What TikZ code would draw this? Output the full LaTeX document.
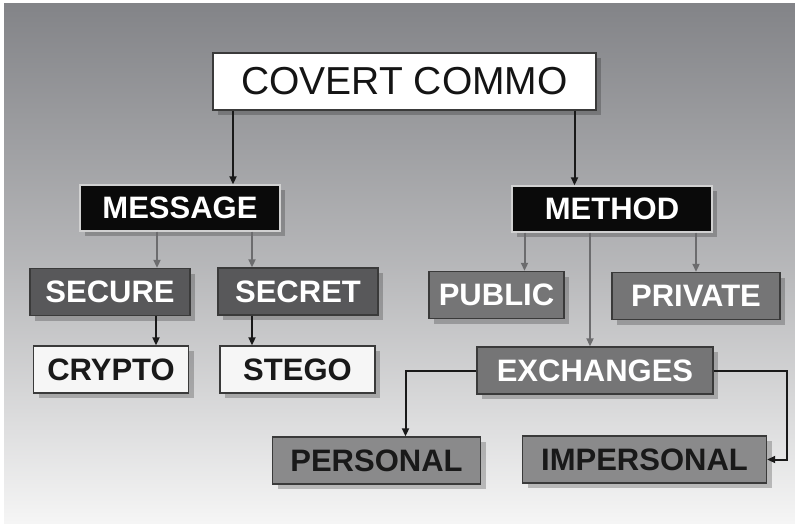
\documentclass[tikz,border=0pt]{standalone}
\usepackage{fontspec}
\setmainfont{Liberation Sans}
\usetikzlibrary{shadows,arrows.meta}
\definecolor{bgtop}{HTML}{838488}
\definecolor{bgbot}{HTML}{F5F5F5}
\definecolor{darkfill}{HTML}{58585A}
\definecolor{midfill}{HTML}{757576}
\definecolor{lightfill}{HTML}{8A8A8B}
\definecolor{paperfill}{HTML}{F6F6F6}
\definecolor{edgedark}{HTML}{3A3A3A}
\definecolor{greyarrow}{HTML}{6C6C6E}
\tikzset{
  box/.style={rectangle, inner sep=0pt, line width=1.4pt, draw=edgedark,
    font=\fontsize{31}{31}\selectfont\bfseries,
    drop shadow={shadow xshift=5pt, shadow yshift=-5pt, fill=black, opacity=0.22}},
  topbox/.style={box, fill=white, font=\fontsize{39}{39}\selectfont, text=black!92},
  blackbox/.style={box, fill=black!96, draw=black!18, text=white},
  darkbox/.style={box, fill=darkfill, text=white!96},
  midbox/.style={box, fill=midfill, text=white!96},
  lightbox/.style={box, fill=lightfill, text=black!90},
  paperbox/.style={box, fill=paperfill, text=black!90},
  blk/.style={draw=black!90, line width=2pt, -{Triangle[length=8pt,width=7pt]}},
  gry/.style={draw=greyarrow, line width=2pt, -{Triangle[length=8pt,width=7pt]}}
}
\begin{document}
\begin{tikzpicture}[x=1pt,y=-1pt]
\useasboundingbox (0,0) rectangle (795,532);
\fill[white] (0,0) rectangle (795,532);
\shade[top color=bgtop, bottom color=bgbot, middle color=bgtop!55!bgbot] (4,4) rectangle (795,523);

\node[topbox, minimum width=383pt, minimum height=57pt] (covert) at (404.5,81.5) {COVERT COMMO};
\node[blackbox, minimum width=200pt, minimum height=46pt] (message) at (180,208) {MESSAGE};
\node[blackbox, minimum width=200pt, minimum height=46pt] (method) at (612,209) {METHOD};
\node[darkbox, minimum width=160pt, minimum height=47pt] (secure) at (110,292) {SECURE};
\node[darkbox, minimum width=160pt, minimum height=47pt] (secret) at (298,291.5) {SECRET};
\node[midbox, minimum width=135pt, minimum height=47pt] (public) at (496.5,295) {PUBLIC};
\node[midbox, minimum width=168pt, minimum height=47pt] (private) at (696,296) {PRIVATE};
\node[paperbox, minimum width=155pt, minimum height=47pt] (crypto) at (111,369.5) {CRYPTO};
\node[paperbox, minimum width=155pt, minimum height=47pt] (stego) at (297.5,369.5) {STEGO};
\node[midbox, minimum width=236pt, minimum height=47pt] (exchanges) at (595,370.5) {EXCHANGES};
\node[lightbox, minimum width=208pt, minimum height=47pt] (personal) at (376.5,460.5) {PERSONAL};
\node[lightbox, minimum width=244pt, minimum height=47pt] (impersonal) at (644.5,459.5) {IMPERSONAL};

\coordinate (leftbend) at (405.5,370.5);
\coordinate (rightbend) at (786.5,370.5);

\draw[blk] (covert.south -| 233,0) -- (message.north -| 233,0);
\draw[blk] (covert.south -| 574.5,0) -- (method.north -| 574.5,0);
\draw[gry] (message.south -| 157,0) -- (secure.north -| 157,0);
\draw[gry] (message.south -| 252,0) -- (secret.north -| 252,0);
\draw[gry] (method.south -| 524.5,0) -- (public.north -| 524.5,0);
\draw[gry] (method.south -| 590,0) -- (exchanges.north -| 590,0);
\draw[gry] (method.south -| 696,0) -- (private.north -| 696,0);
\draw[blk] (secure.south -| 156,0) -- (crypto.north -| 156,0);
\draw[blk] (secret.south -| 252,0) -- (stego.north -| 252,0);
\draw[blk] (exchanges.west) -- (leftbend) -- (personal.north -| leftbend);
\draw[blk] (exchanges.east) -- (rightbend) -- (rightbend |- impersonal.east) -- (impersonal.east);
\end{tikzpicture}
\end{document}
